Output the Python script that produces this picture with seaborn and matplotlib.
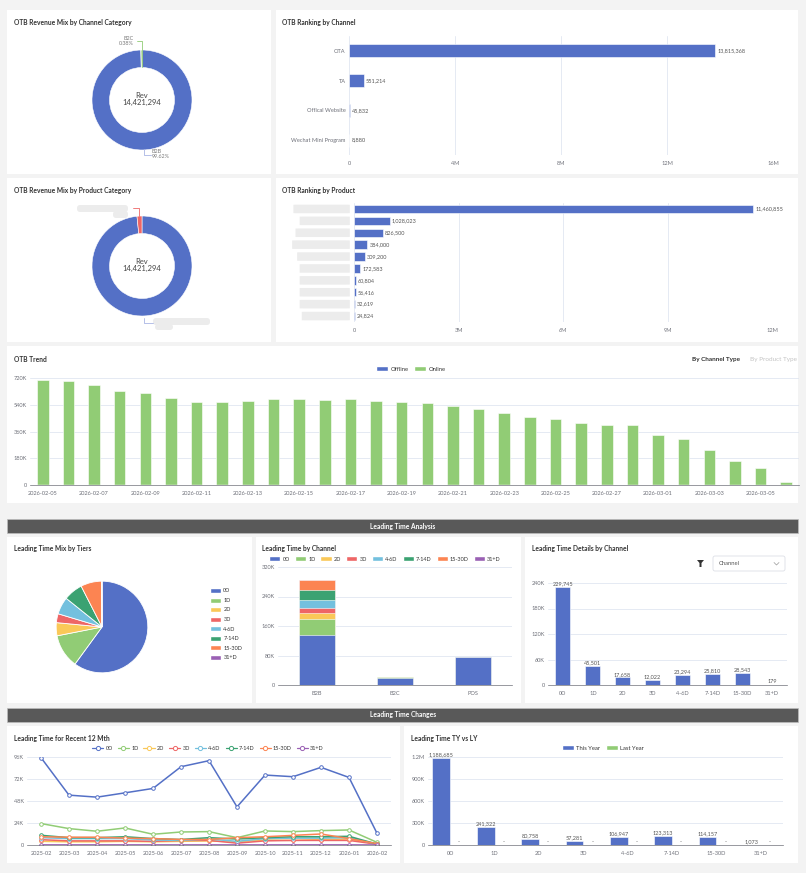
import numpy as np
import pandas as pd
import seaborn as sns
import matplotlib.pyplot as plt
from matplotlib.patches import Rectangle, FancyBboxPatch, Patch, Polygon
from matplotlib.lines import Line2D
from matplotlib.ticker import FuncFormatter, MultipleLocator
from matplotlib.transforms import blended_transform_factory

# --- DATA ---
TOTAL_REV = 14421294
CHANNEL_CATEGORIES = ["B2B", "B2C"]
CHANNEL_CATEGORY_SHARE = [99.62, 0.38]
PRODUCT_CATEGORY_SHARE = [98.4, 1.6]

CHANNELS = ["OTA", "TA", "Offical Website", "Wechat Mini Program"]
CHANNEL_REV = [13815368, 551214, 45832, 8880]

# product names are blurred out in the source
PRODUCTS = ["P01", "P02", "P03", "P04", "P05", "P06", "P07", "P08", "P09", "P10"]
PRODUCT_REV = [11460855, 1028023, 826500, 384000, 309200, 172583, 60804, 56416, 32619, 24824]

TREND_DATES = ["2026-02-05", "2026-02-06", "2026-02-07", "2026-02-08", "2026-02-09",
               "2026-02-10", "2026-02-11", "2026-02-12", "2026-02-13", "2026-02-14",
               "2026-02-15", "2026-02-16", "2026-02-17", "2026-02-18", "2026-02-19",
               "2026-02-20", "2026-02-21", "2026-02-22", "2026-02-23", "2026-02-24",
               "2026-02-25", "2026-02-26", "2026-02-27", "2026-02-28", "2026-03-01",
               "2026-03-02", "2026-03-03", "2026-03-04", "2026-03-05", "2026-03-06"]
TREND_ONLINE = [704000, 702000, 673000, 630000, 619000, 587000, 558000, 560000, 567000, 578000,
                578000, 571000, 578000, 567000, 556000, 551000, 533000, 511000, 484000, 457000,
                441000, 416000, 403000, 405000, 335000, 308000, 236000, 162000, 112000, 20000]
TREND_OFFLINE = [0, 0, 0, 0, 0, 0, 0, 0, 0, 0, 0, 0, 0, 0, 0,
                 0, 0, 0, 0, 0, 0, 0, 0, 0, 0, 0, 0, 0, 0, 0]

TIERS = ["0D", "1D", "2D", "3D", "4-6D", "7-14D", "15-30D", "31+D"]
TIER_TOTAL = [229745, 45501, 17658, 12022, 23294, 25810, 28543, 179]

LT_CHANNELS = ["B2B", "B2C", "POS"]
LT_0D = [135000, 19800, 74945]
LT_1D = [44000, 1501, 0]
LT_2D = [16500, 1158, 0]
LT_3D = [12022, 0, 0]
LT_4_6D = [23294, 0, 0]
LT_7_14D = [25810, 0, 0]
LT_15_30D = [28543, 0, 0]
LT_31D = [179, 0, 0]

MONTHS = ["2025-02", "2025-03", "2025-04", "2025-05", "2025-06", "2025-07", "2025-08",
          "2025-09", "2025-10", "2025-11", "2025-12", "2026-01", "2026-02"]
M_0D = [95300, 54400, 52200, 56900, 61700, 85400, 92000, 41600, 76300, 74500, 84700, 73700, 12800]
M_1D = [23400, 17900, 15000, 18600, 11700, 14200, 14600, 8000, 15300, 14600, 15700, 16400, 2900]
M_2D = [4000, 3500, 3500, 4000, 3500, 4000, 4500, 3500, 5500, 5000, 6000, 6500, 1000]
M_3D = [5800, 4500, 4500, 4500, 4000, 5000, 5000, 2000, 4500, 5000, 5000, 5000, 800]
M_4_6D = [8000, 7000, 7000, 7000, 5500, 5000, 6500, 4000, 7000, 7500, 7500, 8000, 1000]
M_7_14D = [10600, 8000, 8000, 9000, 7000, 6000, 8000, 6500, 8000, 9000, 9000, 9500, 1000]
M_15_30D = [9000, 8500, 8500, 7500, 7000, 6000, 6000, 8000, 9000, 10500, 12000, 7000, 1500]
M_31D = [150, 120, 130, 140, 120, 110, 150, 100, 120, 130, 140, 130, 30]

TY_VALUES = [1188685, 241322, 80758, 57281, 106947, 123313, 114157, 1073]
LY_VALUES = [0, 0, 0, 0, 0, 0, 0, 0]

# --- STYLE ---
BLUE, GREEN = "#5470c6", "#91cc75"
TIER_COLORS = ["#5470c6", "#91cc75", "#fac858", "#ee6666", "#73c0de", "#3ba272", "#fc8452", "#9a60b4"]
PAGE, HEADER = "#f3f3f3", "#595959"
TITLE_C, TICK_C, GRID_C, LABEL_C = "#333333", "#6e7079", "#e0e6f1", "#555555"
BLUR = "#ececec"
TITLE_FS, TICK_FS, LABEL_FS = 4.8, 4.1, 4.0

sns.set_theme(style="white")
plt.rcParams["font.family"] = ["Lato", "DejaVu Sans"]

W, H = 806, 873
fig = plt.figure(figsize=(W / 100, H / 100), dpi=100, facecolor=PAGE)


def px_axes(x0, y0, x1, y1):
    ax = fig.add_axes([x0 / W, 1 - y1 / H, (x1 - x0) / W, (y1 - y0) / H])
    ax.set_facecolor("none")
    return ax


def short_num(v, _=None):
    if v == 0:
        return "0"
    if abs(v) >= 1e6:
        return f"{v / 1e6:g}M"
    return f"{v / 1e3:g}K"


def style_value_ax(ax, grid_axis="y", bottom_line=True):
    for s in ax.spines.values():
        s.set_visible(False)
    if bottom_line:
        ax.spines["bottom"].set_visible(True)
        ax.spines["bottom"].set_color(TICK_C)
        ax.spines["bottom"].set_linewidth(0.5)
    ax.grid(axis=grid_axis, color=GRID_C, lw=0.6)
    ax.grid(axis="x" if grid_axis == "y" else "y", visible=False)
    ax.set_axisbelow(True)
    ax.tick_params(length=0, labelsize=TICK_FS, colors=TICK_C, pad=2.5)
    ax.set_xlabel("")
    ax.set_ylabel("")


# background canvas in pixel coordinates
bg = px_axes(0, 0, W, H)
bg.set_xlim(0, W)
bg.set_ylim(H, 0)
bg.axis("off")
bg.set_zorder(-5)

PANELS = [(7, 10, 271, 174), (276, 10, 798, 174), (7, 178, 271, 342), (276, 178, 798, 342),
          (7, 346, 798, 503), (7, 537, 252, 703), (256, 537, 521, 703), (525, 537, 798, 703),
          (7, 726, 400, 863), (404, 726, 798, 863)]
for x0, y0, x1, y1 in PANELS:
    bg.add_patch(Rectangle((x0, y0), x1 - x0, y1 - y0, facecolor="white", edgecolor="none"))

TITLES = [(14, 22, "OTB Revenue Mix by Channel Category"), (282, 22, "OTB Ranking by Channel"),
          (14, 190, "OTB Revenue Mix by Product Category"), (282, 190, "OTB Ranking by Product"),
          (14, 359, "OTB Trend"), (14, 548, "Leading Time Mix by Tiers"),
          (262, 548, "Leading Time by Channel"), (532, 548, "Leading Time Details by Channel"),
          (14, 738, "Leading Time for Recent 12 Mth"), (411, 738, "Leading Time TY vs LY")]
for x, y, t in TITLES:
    bg.text(x, y, t, fontsize=TITLE_FS, fontweight="bold", color=TITLE_C, va="center", ha="left")

for y0, t in [(519, "Leading Time Analysis"), (708, "Leading Time Changes")]:
    bg.add_patch(Rectangle((7, y0), 791, 14, facecolor=HEADER, edgecolor="#bdbdbd", lw=0.5))
    bg.text(403, y0 + 7, t, fontsize=TITLE_FS, fontweight="bold", color="white", ha="center", va="center")

# -------------------------------------------------------
# Donuts
# -------------------------------------------------------
def donut(box, shares, colors):
    ax = px_axes(*box)
    ax.pie(shares, colors=colors, startangle=90, counterclock=False, radius=1,
           wedgeprops=dict(width=0.35, edgecolor="white", linewidth=0.4))
    ax.set_xlim(-1.2, 1.2)
    ax.set_ylim(-1.2, 1.2)
    ax.text(0, 0.1, "Rev", ha="center", va="center", fontsize=5.5, color="#464646")
    ax.text(0, -0.04, f"{TOTAL_REV:,}", ha="center", va="center", fontsize=5.5, color="#464646")
    return ax


ax = donut((82, 40, 202, 160), CHANNEL_CATEGORY_SHARE, [BLUE, GREEN])
ax.plot([-0.01, -0.01, -0.11], [0.67, 1.19, 1.19], color=GREEN, lw=0.6, clip_on=False)
ax.text(-0.17, 1.24, f"{CHANNEL_CATEGORIES[1]}", ha="right", va="center", fontsize=3.9, color="#7a7a7a")
ax.text(-0.17, 1.13, f"{CHANNEL_CATEGORY_SHARE[1]:.2f}%", ha="right", va="center", fontsize=3.9, color="#7a7a7a")
ax.plot([0.04, 0.04, 0.17], [-0.98, -1.1, -1.1], color="#a9b6e4", lw=0.6, clip_on=False)
ax.text(0.2, -1.03, f"{CHANNEL_CATEGORIES[0]}", ha="left", va="center", fontsize=3.9, color="#7a7a7a")
ax.text(0.2, -1.14, f"{CHANNEL_CATEGORY_SHARE[0]:.2f}%", ha="left", va="center", fontsize=3.9, color="#7a7a7a")

ax = donut((82, 206, 202, 326), PRODUCT_CATEGORY_SHARE, [BLUE, "#ee6666"])
ax.plot([-0.055, -0.055, -0.18], [1.0, 1.16, 1.16], color="#ee6666", lw=0.6, clip_on=False)
ax.plot([0.04, 0.04, 0.22], [-1.04, -1.14, -1.14], color="#a9b6e4", lw=0.6, clip_on=False)
# blurred (redacted) labels
for x0, y0, w, h in [(77, 205, 51, 7), (113, 211, 15, 7), (153, 318, 57, 7), (155, 324, 18, 6)]:
    bg.add_patch(FancyBboxPatch((x0, y0), w, h, boxstyle="round,pad=0,rounding_size=3",
                                facecolor=BLUR, edgecolor="none"))

# -------------------------------------------------------
# Ranking by channel
# -------------------------------------------------------
ax = px_axes(349, 36, 773, 155)
sns.barplot(x=CHANNEL_REV, y=CHANNELS, orient="h", color=BLUE, saturation=1, width=0.43,
            edgecolor="white", linewidth=0.4, ax=ax)
ax.set_xlim(0, 16e6)
ax.xaxis.set_major_locator(MultipleLocator(4e6))
ax.xaxis.set_major_formatter(FuncFormatter(short_num))
style_value_ax(ax, grid_axis="x", bottom_line=False)
ax.tick_params(axis="x", pad=4)
ax.bar_label(ax.containers[0], fmt="{:,.0f}", padding=1.5, fontsize=LABEL_FS, color=LABEL_C)

# -------------------------------------------------------
# Ranking by product
# -------------------------------------------------------
ax = px_axes(354, 203, 772, 322)
sns.barplot(x=PRODUCT_REV, y=PRODUCTS, orient="h", color=BLUE, saturation=1, width=0.7,
            edgecolor="white", linewidth=0.4, ax=ax)
ax.set_xlim(0, 12e6)
ax.xaxis.set_major_locator(MultipleLocator(3e6))
ax.xaxis.set_major_formatter(FuncFormatter(short_num))
style_value_ax(ax, grid_axis="x", bottom_line=False)
ax.tick_params(axis="x", pad=4)
ax.set_yticklabels([])
ax.bar_label(ax.containers[0], fmt="{:,.0f}", padding=1.5, fontsize=LABEL_FS, color=LABEL_C)
tr = blended_transform_factory(ax.transAxes, ax.transData)
for i, start in enumerate([-0.145, -0.13, -0.14, -0.148, -0.136, -0.13, -0.13, -0.13, -0.13, -0.125]):
    ax.add_patch(FancyBboxPatch((start, i - 0.36), -0.01 - start, 0.72, boxstyle="round,pad=0,rounding_size=0.01",
                                transform=tr, clip_on=False, facecolor=BLUR, edgecolor="none"))

# -------------------------------------------------------
# OTB Trend (stacked: offline + online)
# -------------------------------------------------------
ax = px_axes(30, 378, 799, 485)
trend_total = np.array(TREND_OFFLINE) + np.array(TREND_ONLINE)
sns.barplot(x=TREND_DATES, y=trend_total, color=GREEN, saturation=1, width=0.45,
            edgecolor="white", linewidth=0.4, ax=ax)
sns.barplot(x=TREND_DATES, y=TREND_OFFLINE, color=BLUE, saturation=1, width=0.45, ax=ax)
ax.set_ylim(0, 720000)
ax.yaxis.set_major_locator(MultipleLocator(180000))
ax.yaxis.set_major_formatter(FuncFormatter(short_num))
ax.set_xticks(range(0, len(TREND_DATES), 2))
ax.set_xticklabels(TREND_DATES[::2])
style_value_ax(ax)
ax.tick_params(axis="x", pad=4)
ax.legend([Patch(facecolor=BLUE), Patch(facecolor=GREEN)], ["Offline", "Online"], ncol=2,
          loc="center", bbox_to_anchor=(411 / W, 1 - 369 / H), bbox_transform=fig.transFigure,
          frameon=False, fontsize=4.2, handlelength=2.0, handleheight=1.0, handletextpad=0.4,
          columnspacing=1.0, labelcolor=TITLE_C)
bg.text(716, 359, "By Channel Type", fontsize=4.6, fontweight="bold", color=TITLE_C, ha="center", va="center")
bg.text(774, 359, "By Product Type", fontsize=4.6, color="#c4c4c4", ha="center", va="center")

tier_handles = [Patch(facecolor=c) for c in TIER_COLORS]

# -------------------------------------------------------
# Leading Time Mix by Tiers (pie)
# -------------------------------------------------------
ax = px_axes(47, 572, 157, 682)
ax.pie(TIER_TOTAL, colors=TIER_COLORS, startangle=90, counterclock=False, radius=1,
       wedgeprops=dict(edgecolor="white", linewidth=0.6))
ax.set_xlim(-1.2, 1.2)
ax.set_ylim(-1.2, 1.2)
ax.legend(tier_handles, TIERS, loc="upper left", bbox_to_anchor=(205 / W, 1 - 583 / H),
          bbox_transform=fig.transFigure, frameon=False, fontsize=4.0, handlelength=2.0,
          handleheight=1.0, handletextpad=0.4, labelspacing=0.75, labelcolor=TITLE_C)

# -------------------------------------------------------
# Leading Time by Channel (stacked bars)
# -------------------------------------------------------
ax = px_axes(278, 567, 512, 685)
layers = [LT_0D, LT_1D, LT_2D, LT_3D, LT_4_6D, LT_7_14D, LT_15_30D, LT_31D]
cum = np.cumsum(np.array(layers), axis=0)
for i in range(len(layers) - 1, -1, -1):
    sns.barplot(x=LT_CHANNELS, y=cum[i], color=TIER_COLORS[i], saturation=1, width=0.45,
                edgecolor="white", linewidth=0.4, ax=ax)
ax.set_ylim(0, 320000)
ax.yaxis.set_major_locator(MultipleLocator(80000))
ax.yaxis.set_major_formatter(FuncFormatter(short_num))
style_value_ax(ax)
ax.tick_params(axis="x", pad=4)
ax.legend(tier_handles, TIERS, ncol=8, loc="center", bbox_to_anchor=(385 / W, 1 - 559 / H),
          bbox_transform=fig.transFigure, frameon=False, fontsize=4.0, handlelength=2.0,
          handleheight=1.0, handletextpad=0.4, columnspacing=0.9, labelcolor=TITLE_C)

# -------------------------------------------------------
# Leading Time Details by Channel
# -------------------------------------------------------
ax = px_axes(548, 583, 787, 685)
sns.barplot(x=TIERS, y=TIER_TOTAL, color=BLUE, saturation=1, width=0.5,
            edgecolor="white", linewidth=0.4, ax=ax)
ax.set_ylim(0, 240000)
ax.yaxis.set_major_locator(MultipleLocator(60000))
ax.yaxis.set_major_formatter(FuncFormatter(short_num))
style_value_ax(ax)
ax.tick_params(axis="x", pad=4)
ax.bar_label(ax.containers[0], fmt="{:,.0f}", padding=0.5, fontsize=LABEL_FS, color=LABEL_C)
# filter icon + dropdown
bg.add_patch(Polygon([(697, 560), (704, 560), (701.5, 563), (701.5, 567), (699.5, 567), (699.5, 563)],
                     closed=True, facecolor="#333333", edgecolor="none"))
bg.add_patch(FancyBboxPatch((713, 556), 72, 15, boxstyle="round,pad=0,rounding_size=2",
                            facecolor="white", edgecolor="#dcdfe6", lw=0.6))
bg.text(719, 563.5, "Channel", fontsize=4.2, color=LABEL_C, va="center")
bg.plot([774, 776.5, 779], [562.5, 565, 562.5], color="#999999", lw=0.5)

# -------------------------------------------------------
# Leading Time for Recent 12 Mth (lines)
# -------------------------------------------------------
ax = px_axes(27, 757, 391, 845)
monthly = [M_0D, M_1D, M_2D, M_3D, M_4_6D, M_7_14D, M_15_30D, M_31D]
for vals, c in zip(monthly, TIER_COLORS):
    sns.lineplot(x=MONTHS, y=vals, color=c, marker="o", markersize=2.6, markerfacecolor="white",
                 markeredgecolor=c, markeredgewidth=0.7, lw=1.1, ax=ax)
ax.set_xlim(-0.5, len(MONTHS) - 0.5)
ax.set_ylim(0, 96000)
ax.yaxis.set_major_locator(MultipleLocator(24000))
ax.yaxis.set_major_formatter(FuncFormatter(short_num))
style_value_ax(ax)
ax.tick_params(axis="x", pad=4)
line_handles = [Line2D([], [], color=c, marker="o", markersize=3, markerfacecolor="white",
                       markeredgewidth=0.7, lw=0.9) for c in TIER_COLORS]
ax.legend(line_handles, TIERS, ncol=8, loc="center", bbox_to_anchor=(208 / W, 1 - 748 / H),
          bbox_transform=fig.transFigure, frameon=False, fontsize=4.0, handlelength=2.0,
          handletextpad=0.4, columnspacing=0.9, labelcolor=TITLE_C)

# -------------------------------------------------------
# Leading Time TY vs LY
# -------------------------------------------------------
ax = px_axes(428, 757, 783, 845)
df_year = pd.DataFrame({
    "tier": TIERS * 2,
    "year": ["This Year"] * len(TIERS) + ["Last Year"] * len(TIERS),
    "value": TY_VALUES + LY_VALUES,
})
sns.barplot(data=df_year, x="tier", y="value", hue="year", palette=[BLUE, GREEN], saturation=1,
            width=0.8, edgecolor="white", linewidth=0.4, legend=False, ax=ax)
ax.set_ylim(0, 1200000)
ax.yaxis.set_major_locator(MultipleLocator(300000))
ax.yaxis.set_major_formatter(FuncFormatter(short_num))
style_value_ax(ax)
ax.tick_params(axis="x", pad=4)
ax.bar_label(ax.containers[0], fmt="{:,.0f}", padding=0.5, fontsize=LABEL_FS, color=LABEL_C)
ax.bar_label(ax.containers[1], labels=["-"] * len(LY_VALUES), padding=0.5, fontsize=LABEL_FS, color=LABEL_C)
ax.legend([Patch(facecolor=BLUE), Patch(facecolor=GREEN)], ["This Year", "Last Year"], ncol=2,
          loc="center", bbox_to_anchor=(603 / W, 1 - 748 / H), bbox_transform=fig.transFigure,
          frameon=False, fontsize=4.2, handlelength=2.0, handleheight=1.0, handletextpad=0.4,
          columnspacing=1.0, labelcolor=TITLE_C)

fig.savefig("out.png", dpi=100, facecolor=fig.get_facecolor())
